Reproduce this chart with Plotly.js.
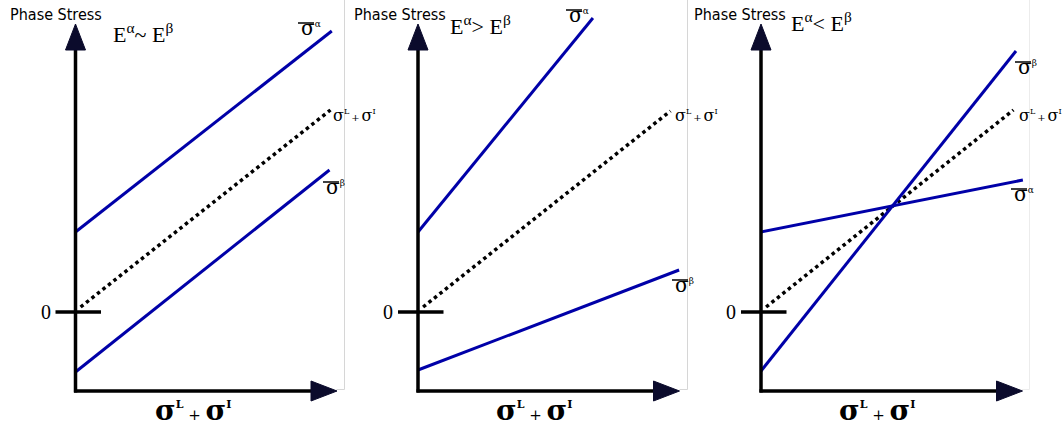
<!DOCTYPE html>
<html>
<head>
<meta charset="utf-8">
<script src="https://cdn.plot.ly/plotly-3.0.1.min.js"></script>
<style>
  html, body { margin: 0; padding: 0; background: #fff; }
  #chart { width: 1064px; height: 430px; }
</style>
</head>
<body>
<div id="chart"></div>
<script>
// Phase stresses against applied stress (σL + σI) for three stiffness ratios.
const panelTitles = ['E<sup>α</sup>~ E<sup>β</sup>', 'E<sup>α</sup>&gt; E<sup>β</sup>', 'E<sup>α</sup>&lt; E<sup>β</sup>'];
const yAxisLabel = 'Phase Stress';
const zeroLabel = '0';

// applied stress σL + σI (the 1:1 reference line)
const sumX = [[0.2, 10.0], [0.2, 9.9], [0.2, 9.9]];
const sumY = [[0.25, 10.1], [0.25, 10.05], [0.25, 10.1]];
// mean stress in the alpha phase
const alphaX = [[0, 10.05], [0, 6.86], [0, 10.27]];
const alphaY = [[4.0, 14.05], [4.0, 14.7], [4.0, 6.6]];
// mean stress in the beta phase
const betaX = [[0, 9.96], [0, 10.24], [0, 10.0]];
const betaY = [[-3.0, 7.1], [-2.9, 2.1], [-2.95, 13.05]];

// page geometry: origin of each panel and scale (px per unit)
const W = 1064, H = 430;
const X0 = [75.5, 418, 761];
const Y0 = 312;
const SX = 25.5, SY = 20;
const BLUE = '#0000a8';
const HEAD = '#0b0b2c';
const xr = ['x', 'x2', 'x3'];

const ux = (k, px) => (px - X0[k]) / SX;
const uy = py => (Y0 - py) / SY;

const traces = [];
const shapes = [];
const annotations = [];

const SERIF = 'Liberation Serif, DejaVu Serif, serif';
const SIGMA = 'DejaVu Serif, Liberation Serif, serif';
const NARROW = 'Liberation Sans Narrow, DejaVu Sans Condensed, Open Sans, sans-serif';

function text(px, py, t, size, family, xanchor, yanchor) {
  annotations.push({
    xref: 'paper', yref: 'paper', x: px / W, y: 1 - py / H,
    text: t, showarrow: false, xanchor: xanchor, yanchor: yanchor,
    font: { family: family, size: size, color: '#000' }
  });
}
function bar(px0, px1, py) {
  shapes.push({
    type: 'line', xref: 'paper', yref: 'paper',
    x0: px0 / W, x1: px1 / W, y0: 1 - py / H, y1: 1 - py / H,
    line: { color: '#000', width: 1.5 }
  });
}

const sup = (s, fs) => '<sup><span style="font-size:' + (fs || 10) + 'px">' + s + '</span></sup>';
const sumLabel = 'σ' + sup('L', 8) + '<span style="font-size:10px">\u2009+\u2009</span>σ' + sup('I', 8);

const labelPos = [
  { a: [299, 31], s: [331, 117], b: [324, 190] },
  { a: [567, 18], s: [673, 117], b: [673, 288] },
  { a: [1012, 197], s: [1017, 117], b: [1016, 70] }
];
const xTitleX = [193, 534, 877];
const zeroX = [46, 388, 731];
const phaseX = [8, 352, 692];
const titleX = [111, 448, 789];
const titleY = [36, 28, 25];
const edgeX = [344.5, 687.5, 1029.5];

for (let k = 0; k < 3; k++) {
  const ax = xr[k];
  traces.push({
    type: 'scatter', mode: 'lines', xaxis: ax, yaxis: 'y',
    x: sumX[k], y: sumY[k], hoverinfo: 'skip',
    line: { color: '#000', width: 3.5, dash: 'dot' }
  });
  traces.push({
    type: 'scatter', mode: 'lines', xaxis: ax, yaxis: 'y',
    x: alphaX[k], y: alphaY[k], hoverinfo: 'skip',
    line: { color: BLUE, width: 3 }
  });
  traces.push({
    type: 'scatter', mode: 'lines', xaxis: ax, yaxis: 'y',
    x: betaX[k], y: betaY[k], hoverinfo: 'skip',
    line: { color: BLUE, width: 3 }
  });

  // panel edge (thin grey)
  shapes.push({
    type: 'path', xref: ax, yref: 'y', layer: 'below',
    path: 'M' + ux(k, edgeX[k]) + ',' + uy(0) + ' L' + ux(k, edgeX[k]) + ',' + uy(389.5) +
          ' L' + ux(k, edgeX[k] - 8) + ',' + uy(389.5),
    line: { color: k === 2 ? '#ececec' : '#d6d6d6', width: 1 }
  });

  // axes
  const yb = uy(391);
  shapes.push({ type: 'line', xref: ax, yref: 'y', x0: 0, x1: 0, y0: yb - 0.08, y1: uy(48), line: { color: '#000', width: 3.5 } });
  shapes.push({ type: 'line', xref: ax, yref: 'y', x0: -0.06, x1: ux(k, X0[k] + 237), y0: yb, y1: yb, line: { color: '#000', width: 3.5 } });
  // arrow heads
  shapes.push({
    type: 'path', xref: ax, yref: 'y', fillcolor: HEAD, line: { color: HEAD, width: 1 },
    path: 'M' + ux(k, X0[k] - 10) + ',' + uy(50) + ' L' + ux(k, X0[k] + 10) + ',' + uy(50) + ' L0,' + uy(24) + ' Z'
  });
  shapes.push({
    type: 'path', xref: ax, yref: 'y', fillcolor: HEAD, line: { color: HEAD, width: 1 },
    path: 'M' + ux(k, X0[k] + 235.5) + ',' + uy(381) + ' L' + ux(k, X0[k] + 235.5) + ',' + uy(401) + ' L' + ux(k, X0[k] + 261.5) + ',' + uy(391) + ' Z'
  });
  // zero tick
  shapes.push({ type: 'line', xref: ax, yref: 'y', x0: ux(k, X0[k] - 20), x1: ux(k, X0[k] + 25.5), y0: 0, y1: 0, line: { color: '#000', width: 3.5 } });

  // texts
  text(phaseX[k], 15, yAxisLabel, 16, NARROW, 'left', 'middle');
  text(titleX[k], titleY[k] - 3, panelTitles[k], 22, SERIF, 'left', 'middle');
  text(zeroX[k], 312, zeroLabel, 20, SERIF, 'center', 'middle');
  text(xTitleX[k], 410, '<b>σ' + sup('L', 11) + '</b><span style="font-size:15px"> + </span><b>σ' + sup('I', 11) + '</b>', 28, SIGMA, 'center', 'middle');

  const p = labelPos[k];
  text(p.a[0], p.a[1] - 3, 'σ' + sup('α', 9), 20, SIGMA, 'left', 'middle');
  bar(p.a[0] - 1, p.a[0] + 15, p.a[1] - 8);
  text(p.b[0], p.b[1] - 3, 'σ' + sup('β', 9), 20, SIGMA, 'left', 'middle');
  bar(p.b[0] - 1, p.b[0] + 15, p.b[1] - 8);
  text(p.s[0], p.s[1] - 2, sumLabel, 16, SIGMA, 'left', 'middle');
}

const hidden = r => ({ range: r, visible: false, showgrid: false, zeroline: false, fixedrange: true });
const layout = {
  width: W, height: H,
  margin: { l: 0, r: 0, t: 0, b: 0, pad: 0 },
  paper_bgcolor: '#fff', plot_bgcolor: '#fff',
  showlegend: false,
  xaxis: hidden([ux(0, 0), ux(0, W)]),
  xaxis2: Object.assign(hidden([ux(1, 0), ux(1, W)]), { overlaying: 'x' }),
  xaxis3: Object.assign(hidden([ux(2, 0), ux(2, W)]), { overlaying: 'x' }),
  yaxis: hidden([uy(H), uy(0)]),
  shapes: shapes,
  annotations: annotations
};

Plotly.newPlot('chart', traces, layout, { staticPlot: true, displayModeBar: false });
</script>
</body>
</html>
